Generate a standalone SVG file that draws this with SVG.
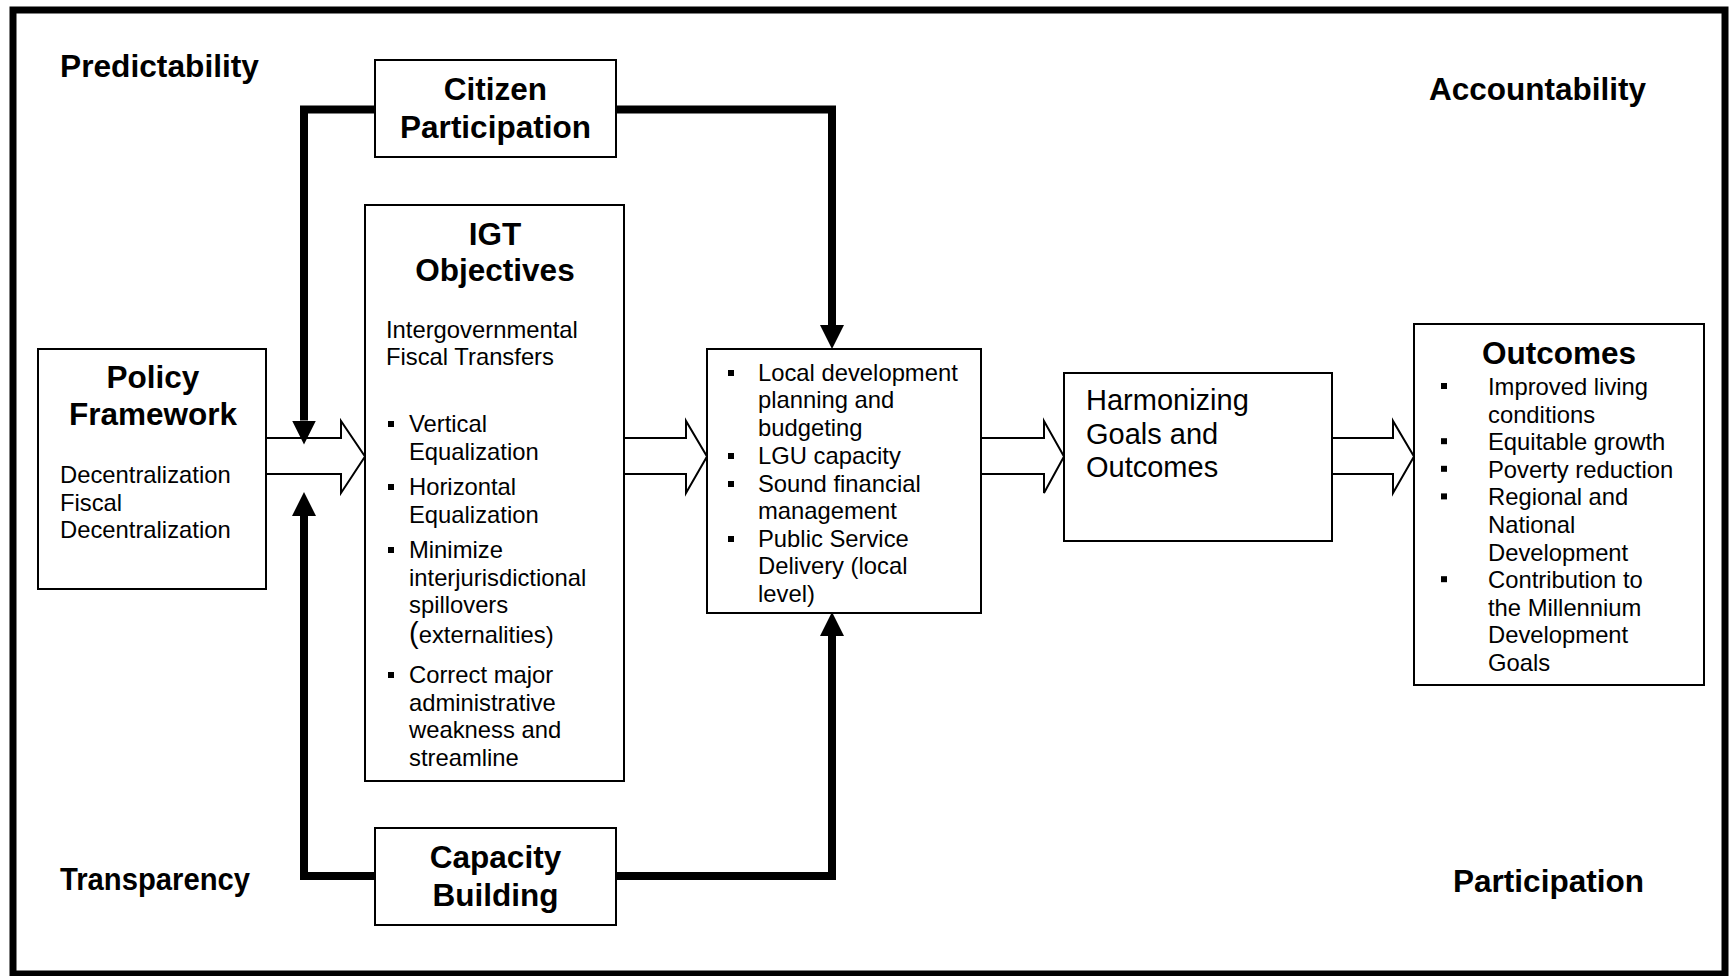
<svg xmlns="http://www.w3.org/2000/svg" width="1730" height="976" viewBox="0 0 1730 976">
<style>
text{font-family:"Liberation Sans",Arial,sans-serif;fill:#000}
.b{font-weight:bold;font-size:31.5px}
.r{font-size:23.8px}
.h{font-size:29px}
.mid{text-anchor:middle}
.box{fill:#fff;stroke:#000;stroke-width:2}
.blk{fill:#fff;stroke:#000;stroke-width:2;stroke-linejoin:miter}
.thick{fill:none;stroke:#000;stroke-width:8;stroke-linejoin:miter;stroke-linecap:butt}
.bul{fill:#000}
</style>
<defs>
<marker id="ah" markerUnits="userSpaceOnUse" markerWidth="24" markerHeight="24" viewBox="0 0 23 23" refX="0" refY="11.5" orient="auto">
<path d="M0,0 L23,11.5 L0,23 z" fill="#000"/>
</marker>
</defs>
<rect x="0" y="0" width="1730" height="976" fill="#fff"/>
<rect id="frame" x="13" y="10" width="1712" height="964" fill="none" stroke="#000" stroke-width="7"/>

<g id="labels">
<text class="b" x="60" y="77" textLength="199" lengthAdjust="spacingAndGlyphs">Predictability</text>
<text class="b" x="1429" y="100" textLength="217" lengthAdjust="spacingAndGlyphs">Accountability</text>
<text class="b" x="60" y="890" textLength="190" lengthAdjust="spacingAndGlyphs">Transparency</text>
<text class="b" x="1453" y="892" textLength="191" lengthAdjust="spacingAndGlyphs">Participation</text>
</g>

<g id="connectors">
<polygon class="blk" points="266,438 341,438 341,421 365,456.5 341,493 341,474 266,474"/>
<polygon class="blk" points="624,438 686,438 686,421 707,456.5 686,493 686,474 624,474"/>
<polygon class="blk" points="981,438 1044,438 1044,421 1064,456.5 1044,493 1044,474 981,474"/>
<polygon class="blk" points="1332,438 1393,438 1393,421 1414,456.5 1393,493 1393,474 1332,474"/>
<path class="thick" d="M375,109.5 H304 V420.5" marker-end="url(#ah)"/>
<path class="thick" d="M616,109.5 H832 V325" marker-end="url(#ah)"/>
<path class="thick" d="M375,876 H304 V516" marker-end="url(#ah)"/>
<path class="thick" d="M616,876 H832 V636" marker-end="url(#ah)"/>
</g>

<g id="policy">
<rect class="box" x="38" y="349" width="228" height="240"/>
<text class="b mid" x="153" y="388">Policy</text>
<text class="b mid" x="153" y="425">Framework</text>
<text class="r" x="60" y="483">Decentralization</text>
<text class="r" x="60" y="511">Fiscal</text>
<text class="r" x="60" y="538">Decentralization</text>
</g>

<g id="citizen">
<rect class="box" x="375" y="60" width="241" height="97"/>
<text class="b mid" x="495.5" y="100">Citizen</text>
<text class="b mid" x="495.5" y="138">Participation</text>
</g>

<g id="capacity">
<rect class="box" x="375" y="828" width="241" height="97"/>
<text class="b mid" x="495.5" y="868">Capacity</text>
<text class="b mid" x="495.5" y="906">Building</text>
</g>

<g id="igt">
<rect class="box" x="365" y="205" width="259" height="576"/>
<text class="b mid" x="495" y="245">IGT</text>
<text class="b mid" x="495" y="281">Objectives</text>
<text class="r" x="386" y="338">Intergovernmental</text>
<text class="r" x="386" y="365">Fiscal Transfers</text>
<rect class="bul" x="388" y="421" width="6" height="6"/>
<text class="r" x="409" y="432">Vertical</text>
<text class="r" x="409" y="460">Equalization</text>
<rect class="bul" x="388" y="484" width="6" height="6"/>
<text class="r" x="409" y="495">Horizontal</text>
<text class="r" x="409" y="523">Equalization</text>
<rect class="bul" x="388" y="547" width="6" height="6"/>
<text class="r" x="409" y="558">Minimize</text>
<text class="r" x="409" y="586">interjurisdictional</text>
<text class="r" x="409" y="613">spillovers</text>
<text class="r" x="409" y="643"><tspan font-size="29">(</tspan>externalities)</text>
<rect class="bul" x="388" y="672" width="6" height="6"/>
<text class="r" x="409" y="683">Correct major</text>
<text class="r" x="409" y="711">administrative</text>
<text class="r" x="409" y="738">weakness and</text>
<text class="r" x="409" y="766">streamline</text>
</g>

<g id="local">
<rect class="box" x="707" y="349" width="274" height="264"/>
<rect class="bul" x="728" y="370" width="6" height="6"/>
<text class="r" x="758" y="381">Local development</text>
<text class="r" x="758" y="408">planning and</text>
<text class="r" x="758" y="436">budgeting</text>
<rect class="bul" x="728" y="453" width="6" height="6"/>
<text class="r" x="758" y="464">LGU capacity</text>
<rect class="bul" x="728" y="481" width="6" height="6"/>
<text class="r" x="758" y="492">Sound financial</text>
<text class="r" x="758" y="519">management</text>
<rect class="bul" x="728" y="536" width="6" height="6"/>
<text class="r" x="758" y="547">Public Service</text>
<text class="r" x="758" y="574">Delivery (local</text>
<text class="r" x="758" y="602">level)</text>
</g>

<g id="harmonizing">
<rect class="box" x="1064" y="373" width="268" height="168"/>
<text class="h" x="1086" y="410">Harmonizing</text>
<text class="h" x="1086" y="444">Goals and</text>
<text class="h" x="1086" y="477">Outcomes</text>
</g>

<g id="outcomes">
<rect class="box" x="1414" y="324" width="290" height="361"/>
<text class="b mid" x="1559" y="364">Outcomes</text>
<rect class="bul" x="1441" y="383" width="6" height="6"/>
<text class="r" x="1488" y="395">Improved living</text>
<text class="r" x="1488" y="422.6">conditions</text>
<rect class="bul" x="1441" y="438.2" width="6" height="6"/>
<text class="r" x="1488" y="450.2">Equitable growth</text>
<rect class="bul" x="1441" y="465.8" width="6" height="6"/>
<text class="r" x="1488" y="477.8">Poverty reduction</text>
<rect class="bul" x="1441" y="493.4" width="6" height="6"/>
<text class="r" x="1488" y="505.4">Regional and</text>
<text class="r" x="1488" y="533">National</text>
<text class="r" x="1488" y="560.6">Development</text>
<rect class="bul" x="1441" y="576.2" width="6" height="6"/>
<text class="r" x="1488" y="588.2">Contribution to</text>
<text class="r" x="1488" y="615.8">the Millennium</text>
<text class="r" x="1488" y="643.4">Development</text>
<text class="r" x="1488" y="671">Goals</text>
</g>
</svg>
